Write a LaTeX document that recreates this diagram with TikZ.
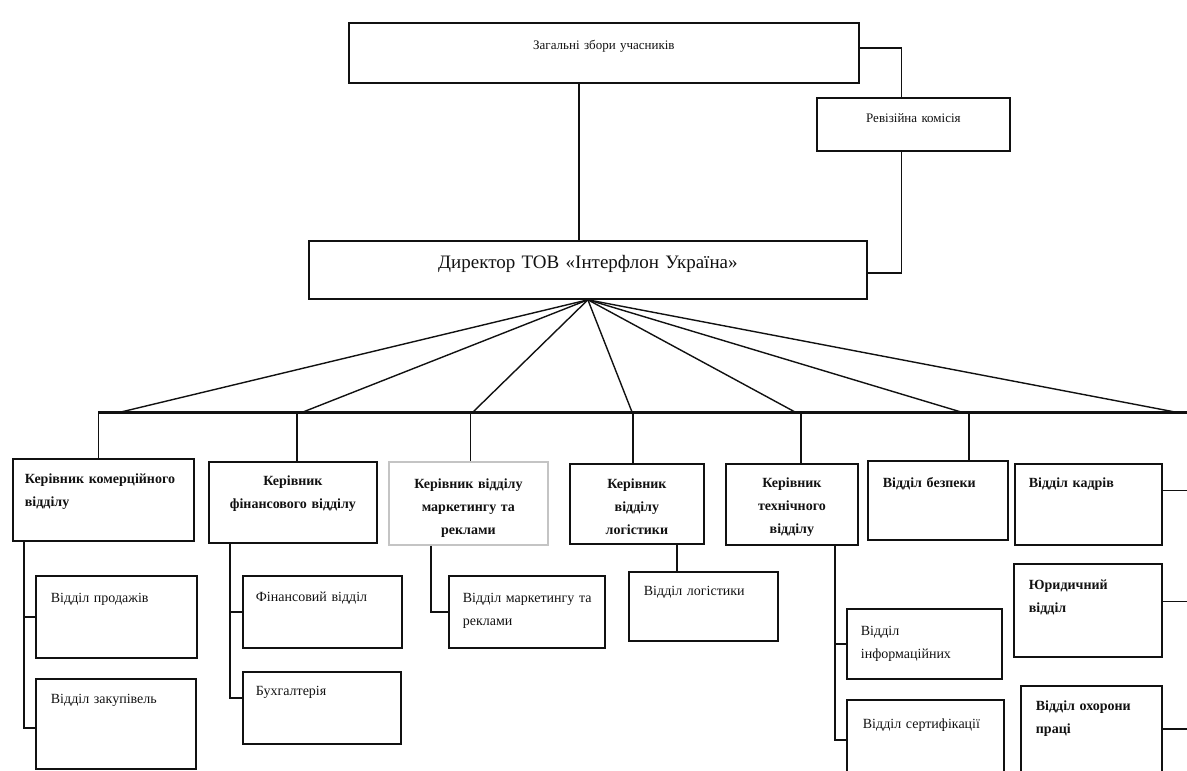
\documentclass[tikz,border=0pt]{standalone}
\usepackage{fontspec}
\setmainfont{Liberation Serif}
\definecolor{ink}{HTML}{111111}
\definecolor{faint}{HTML}{C4C4C4}

\begin{document}
\begin{tikzpicture}[
  x=1pt, y=-1pt,
  text=ink,
  unit/.style={draw=ink, line width=1.8pt, anchor=north west, inner ysep=0pt,
    inner xsep=14pt, align=left, font=\fontsize{14}{23}\selectfont},
  head/.style={unit, font=\fontsize{14}{23}\selectfont\bfseries},
  link/.style={draw=ink, line width=1.5pt},
  fan/.style={draw=ink, line width=1.4pt},
  bus/.style={draw=ink, line width=3pt}
]
  \useasboundingbox (0,0) rectangle (1187,771);
  \node[unit, text width=510pt, inner xsep=0pt, align=center, text height=27pt,
    text depth=33pt, font=\fontsize{13}{16}\selectfont] (meeting) at (348,22)
    {Загальні збори учасників};
  \node[unit, text width=193pt, inner xsep=0pt, align=center, text height=25pt,
    text depth=28pt, font=\fontsize{13}{16}\selectfont] (audit) at (816,97)
    {Ревізійна комісія};
  \node[unit, text width=558pt, inner xsep=0pt, align=center, text height=28pt,
    text depth=30pt, font=\fontsize{19}{22}\selectfont] (director) at (308,240)
    {Директор ТОВ «Інтерфлон Україна»};
  \node[head, text width=157pt, inner xsep=12pt, text height=25pt, text depth=57pt]
    (sales) at (12,458) {Керівник комерційного\\відділу};
  \node[head, text width=140pt, align=center, text height=24pt, text depth=57pt]
    (finance) at (208,461) {Керівник\\фінансового відділу};
  \node[head, draw=faint, text width=131pt, align=center, text height=27pt,
    text depth=56pt] (marketing) at (388,461) {Керівник відділу\\маркетингу та\\реклами};
  \node[head, text width=106pt, align=center, text height=25pt, text depth=55pt]
    (logistics) at (569,463) {Керівник\\відділу\\логістики};
  \node[head, text width=104pt, align=center, text height=24pt, text depth=57pt]
    (technical) at (725,463) {Керівник\\технічного\\відділу};
  \node[head, text width=110pt, inner xsep=15pt, text height=27pt, text depth=52pt]
    (security) at (867,460) {Відділ безпеки};
  \node[head, text width=119pt, text height=24pt, text depth=57pt]
    (staff) at (1014,463) {Відділ кадрів};
  \node[head, text width=118pt, inner xsep=15pt, text height=26pt, text depth=67pt]
    (legal) at (1013,563) {Юридичний\\відділ};
  \node[head, text width=111pt, inner xsep=15pt, text height=25pt, text depth=75pt]
    (safety) at (1020,685) {Відділ охорони\\праці};
  \node[unit, text width=131pt, inner xsep=15pt, text height=27pt, text depth=55pt]
    (salesdept) at (35,575) {Відділ продажів};
  \node[unit, text width=130pt, inner xsep=15pt, text height=25pt, text depth=65pt]
    (purchase) at (35,678) {Відділ закупівель};
  \node[unit, text width=133pt, inner xsep=13pt, text height=26pt, text depth=46pt]
    (findept) at (242,575) {Фінансовий відділ};
  \node[unit, text width=132pt, inner xsep=13pt, text height=24pt, text depth=48pt]
    (accounts) at (242,671) {Бухгалтерія};
  \node[unit, text width=128pt, text height=27pt, text depth=45pt]
    (mktdept) at (448,575) {\mbox{Відділ маркетингу та}\\реклами};
  \node[unit, text width=119pt, inner xsep=15pt, text height=24pt, text depth=45pt]
    (logdept) at (628,571) {Відділ логістики};
  \node[unit, text width=127pt, text height=27pt, text depth=43pt]
    (itdept) at (846,608) {Відділ\\інформаційних};
  \node[unit, text width=125pt, inner xsep=16pt, text height=29pt, text depth=51pt]
    (certdept) at (846,699) {Відділ сертифікації};
  \coordinate (rim) at (1187,412);
  \draw[link] ([xshift=-25pt]meeting.south) -- ([xshift=-25pt]meeting.south |- director.north);
  \draw[link] ([yshift=5pt]meeting.east) -| ([xshift=-12pt]audit.north);
  \draw[link] ([xshift=-12pt]audit.south) |- ([yshift=-3pt]director.east);
  \draw[bus] ([xshift=-5pt]sales.north |- rim) -- (rim);
  \foreach \x [count=\i] in {121,303,473,632,795,961,1175} {
    \coordinate (f\i) at (\x,412);
    \draw[fan] (director.south) -- (f\i);
  }
  \foreach \n/\s in {sales/-5,finance/4,marketing/2,logistics/-4,technical/9,security/31}
    \draw[link] ([xshift=\s]\n.north |- rim) -- ([xshift=\s]\n.north);
  \draw[link] ([xshift=12pt]sales.south west) |- (salesdept.west);
  \draw[link] ([xshift=12pt]sales.south west) |- ([yshift=-4pt]purchase.west);
  \draw[link] ([xshift=22pt]finance.south west) |- (findept.west);
  \draw[link] ([xshift=22pt]finance.south west) |- ([yshift=10pt]accounts.west);
  \draw[link] ([xshift=43pt]marketing.south west) |- (mktdept.west);
  \draw[link] ([xshift=40pt]logistics.south) -- ([xshift=40pt]logistics.south |- logdept.north);
  \draw[link] ([xshift=-24pt]technical.south east) |- (itdept.west);
  \draw[link] ([xshift=-24pt]technical.south east) |- (certdept.west);
  \draw[link] ([yshift=14pt]staff.east) -- ([yshift=14pt]staff.east -| rim);
  \draw[link] ([yshift=9pt]legal.east) -- ([yshift=9pt]legal.east -| rim);
  \draw[link] ([yshift=7pt]safety.east) -- ([yshift=7pt]safety.east -| rim);
\end{tikzpicture}
\end{document}
